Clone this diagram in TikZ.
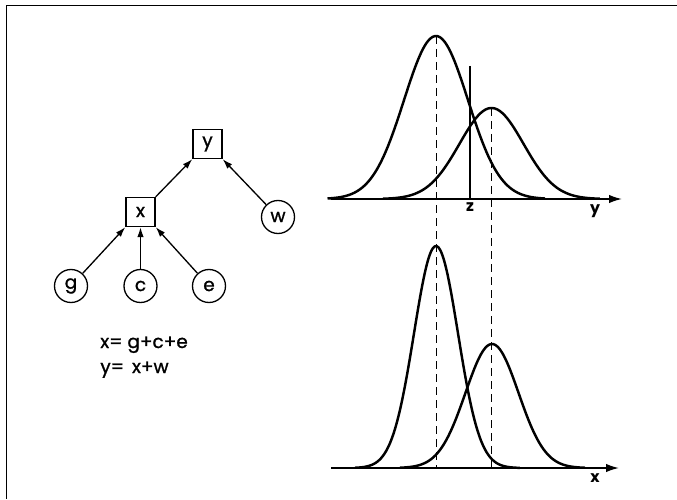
\documentclass[tikz,border=0pt]{standalone}
\usepackage{fontspec}
\setmainfont{Poppins}
\newfontfamily\labelfont{Poppins}[FakeBold=1.2]
\usetikzlibrary{arrows.meta,positioning}
\tikzset{
  >={Latex[length=2.6mm,width=1.7mm]},
  declare function={bell(\t,\m,\s,\h)=\h*exp(-((\t-\m)^2)/(2*\s*\s));},
  var/.style={circle,draw,line width=0.75pt,minimum size=6.6mm,inner sep=0pt,
    font=\labelfont\fontsize{10.5}{12}\selectfont},
  sum/.style={rectangle,draw,line width=0.75pt,minimum size=5.8mm,inner sep=0pt,
    font=\labelfont\fontsize{10.5}{12}\selectfont},
  link/.style={-{Latex[length=2mm,width=1.3mm]},line width=0.75pt},
  curve/.style={line width=1.4pt,line join=round},
  axis/.style={->,line width=0.95pt},
  guide/.style={line width=0.45pt,dash pattern=on 1.6mm off 1mm},
  tag/.style={font=\fontsize{9}{10}\selectfont\bfseries,inner sep=1pt},
  eqn/.style={font=\labelfont\fontsize{10.5}{12}\selectfont,inner sep=0pt,anchor=base west},
}
\begin{document}
\begin{tikzpicture}
  \useasboundingbox (0,0) rectangle (13.54,9.98);
  \draw[line width=0.85pt] (13.54,9.87) -- (0.13,9.87) -- (0.13,0);

  % path diagram
  \node[sum] (sumy) at (4.15,7.10) {y};
  \node[sum] (sumx) at (2.81,5.74) {x};
  \node[var] (w) at (5.56,5.64) {w};
  \node[var] (g) at (1.42,4.26) {g};
  \node[var] (c) at (2.81,4.26) {c};
  \node[var] (e) at (4.18,4.26) {e};
  \draw[link] (g) -- (sumx.south west);
  \draw[link] (c) -- (sumx);
  \draw[link] (e) -- (sumx.south east);
  \draw[link] (sumx.north east) -- (sumy.south west);
  \draw[link] (w) -- (sumy.south east);

  \node[eqn] (eqx) at (2.0,3.02) {x= g+c+e};
  \node[eqn] (eqy) at ([yshift=-0.5cm]eqx.base west) {y=\, x+w};

  % distributions of y
  \coordinate (oy) at (6.62,6.0);
  \coordinate (ey) at (12.44,6.0);
  \draw[curve] plot[domain=6.55:10.9,samples=90,smooth] (\x,{6+bell(\x,8.72,0.64,3.26)});
  \draw[curve] plot[domain=7.66:12.0,samples=90,smooth] (\x,{6+bell(\x,9.83,0.64,1.82)});
  \draw[axis] (oy) -- (ey);
  \coordinate (ztop) at (9.40,8.66);
  \node[tag,anchor=north] (z) at (9.40,5.96) {z};
  \draw[line width=0.75pt] (ztop) -- (9.40,6.0);
  \node[tag] (ly) at (11.90,5.76) {y};

  % distributions of x
  \coordinate (ox) at (6.62,0.62);
  \coordinate (ex) at (12.38,0.62);
  \draw[curve] plot[domain=7.1:10.4,samples=90,smooth] (\x,{0.62+bell(\x,8.72,0.44,4.44)});
  \draw[curve] plot[domain=8.0:11.7,samples=90,smooth] (\x,{0.62+bell(\x,9.84,0.53,2.48)});
  \draw[axis] (ox) -- (ex);
  \node[tag] (lx) at (11.90,0.42) {x};

  % means
  \draw[guide] (8.72,9.26) -- (8.72,0.62);
  \draw[guide] (9.83,7.82) -- (9.83,0.62);
\end{tikzpicture}
\end{document}
